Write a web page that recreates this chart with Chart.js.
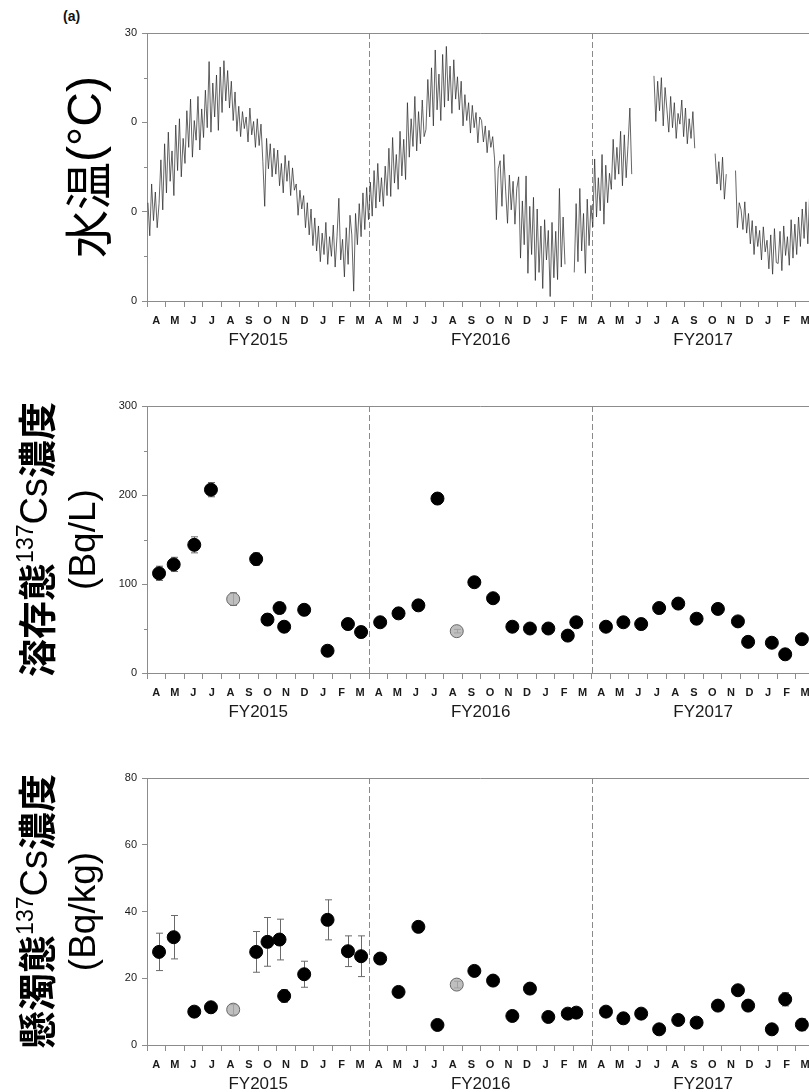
<!DOCTYPE html>
<html lang="ja">
<head>
<meta charset="utf-8">
<title>水温・137Cs濃度</title>
<script src="https://cdn.jsdelivr.net/npm/chart.js@4.4.1/dist/chart.umd.min.js"></script>
<style>
    html, body { margin: 0; padding: 0; background: #fff; }
    body { position: relative; width: 809px; height: 1092px; overflow: hidden; }
    canvas { position: absolute; left: 0; }
    #tag { position: absolute; left: 63px; top: 8px; font: bold 14px "Liberation Sans", Arial, sans-serif; color: #111; }
</style>
</head>
<body>
<div id="tag">(a)</div>
<canvas id="tempChart" width="840" height="351" style="top:0px"></canvas>
<canvas id="dissolvedChart" width="840" height="350" style="top:373px"></canvas>
<canvas id="suspendedChart" width="840" height="350" style="top:745px"></canvas>

<script>
// Axis labels
const monthLetters = ['A', 'M', 'J', 'J', 'A', 'S', 'O', 'N', 'D', 'J', 'F', 'M'];
const fiscalYears = ['FY2015', 'FY2016', 'FY2017'];
const fyBoundaries = [12, 24];          // months after April 2015

const tempTicks = [0, 10, 20, 30];
const tempTickLabels = ['0', '0', '0', '30'];   // as printed in the figure
const tempMinor = [5, 15, 25];
const dissolvedTicks = [0, 100, 200, 300];
const dissolvedMinor = [50, 150, 250];
const suspendedTicks = [0, 20, 40, 60, 80];

// Water temperature (°C), ten readings per month, Apr 2015 - Mar 2018 (null = no record)
const waterTemp = [
    [11.0, 7.3, 13.1, 9.0, 12.2, 8.2, 10.9, 15.8, 10.2, 17.6],
    [12.1, 18.9, 13.4, 16.8, 11.8, 19.7, 14.6, 20.4, 13.9, 18.2],
    [15.4, 21.3, 17.2, 22.6, 16.1, 20.2, 18.0, 22.9, 16.9, 21.5],
    [18.3, 23.6, 19.4, 26.8, 18.9, 24.4, 20.6, 25.3, 19.1, 26.2],
    [21.1, 26.9, 22.4, 25.8, 21.6, 24.6, 20.2, 23.4, 19.0, 21.8],
    [18.4, 21.2, 19.3, 20.6, 17.8, 21.6, 18.6, 20.1, 17.2, 20.4],
    [17.4, 19.8, 15.6, 10.6, 18.2, 14.8, 17.6, 13.9, 17.1, 14.2],
    [16.9, 12.9, 15.4, 12.1, 16.3, 13.4, 15.7, 11.8, 14.9, 12.4],
    [13.1, 9.6, 12.4, 10.3, 11.8, 8.2, 11.0, 7.4, 10.3, 6.2],
    [9.3, 5.6, 8.4, 4.4, 7.6, 5.2, 8.8, 4.1, 7.2, 5.0],
    [8.5, 3.8, 7.2, 11.5, 4.6, 6.9, 2.7, 8.2, 4.1, 9.6],
    [7.4, 1.1, 9.8, 6.3, 10.9, 7.2, 12.1, 8.0, 12.7, 9.1],
    [13.3, 9.5, 14.6, 10.4, 15.4, 11.1, 13.8, 10.6, 15.1, 11.8],
    [17.1, 11.7, 18.3, 13.2, 16.4, 12.5, 19.0, 14.0, 18.1, 13.6],
    [22.2, 16.1, 20.4, 17.3, 22.9, 16.8, 21.2, 17.6, 22.5, 18.4],
    [19.2, 24.8, 20.6, 26.1, 19.6, 28.1, 21.4, 25.4, 20.2, 27.6],
    [21.7, 28.5, 22.4, 26.3, 21.0, 27.0, 22.6, 25.1, 21.4, 24.6],
    [19.6, 23.1, 20.2, 22.2, 18.8, 21.9, 19.4, 21.1, 17.7, 20.6],
    [20.2, 17.8, 19.6, 16.6, 19.1, 17.2, 18.4, 15.9, 9.1, 14.8],
    [15.7, 10.6, 16.4, 12.3, 8.7, 14.1, 10.2, 13.4, 8.6, 12.6],
    [13.9, 4.8, 11.2, 6.3, 14.0, 3.1, 10.6, 5.2, 11.6, 2.3],
    [10.3, 3.2, 8.4, 1.4, 9.1, 4.6, 7.9, 0.5, 8.8, 2.6],
    [7.8, 2.4, 12.6, 3.8, 9.4, 4.1, null, null, null, null],
    [3.2, 10.9, 4.4, 12.6, 5.6, 9.8, 3.1, 11.4, 6.2, 10.7],
    [8.3, 15.9, 9.4, 13.8, 10.1, 16.4, 8.6, 15.2, 11.0, 14.3],
    [12.5, 18.1, 13.6, 17.2, 14.2, 19.0, 12.9, 18.6, 13.8, 17.4],
    [21.6, 14.2, null, null, null, null, null, null, null, null],
    [null, null, null, 25.2, 20.1, 24.6, 21.3, 25.0, 19.6, 23.9],
    [21.4, 18.9, 22.9, 19.4, 22.2, 18.2, 21.0, 19.8, 22.5, 18.4],
    [21.6, 17.6, 20.4, 18.2, 21.2, 17.1, null, null, null, null],
    [null, null, null, null, null, null, 16.5, 13.1, 15.6, 12.4],
    [16.1, 11.4, 14.2, null, null, null, null, 14.6, 8.2, 11.0],
    [10.2, 8.0, 11.1, 7.6, 9.8, 6.4, 9.0, 5.2, 8.4, 6.1],
    [7.9, 4.6, 8.3, 5.5, 6.8, 3.6, 7.4, 3.0, 8.1, 4.3],
    [4.2, 7.8, 3.4, 8.4, 5.1, 7.2, 4.0, 9.1, 4.8, 8.6],
    [5.2, 9.4, 6.1, 10.3, 7.0, 11.1, 6.4, 12.0, 7.6, 11.3]
];

// Sampling dates (months after 1 April 2015)
const sampleMonths = [0.65, 1.44, 2.55, 3.45, 4.65, 5.89, 6.5, 7.15, 7.4, 8.48, 9.74, 10.84, 11.55,
    12.58, 13.57, 14.64, 15.67, 16.71, 17.66, 18.67, 19.71, 20.66, 21.65, 22.7, 23.16,
    24.76, 25.7, 26.66, 27.63, 28.66, 29.65, 30.8, 31.88, 32.43, 33.71, 34.43, 35.33];
const greySamples = [4, 17];   // samples shown with grey markers

// Dissolved 137Cs (Bq/L) and its error
const dissolvedCs = [112, 122, 144, 206, 83, 128, 60, 73, 52, 71, 25, 55, 46,
    57, 67, 76, 196, 47, 102, 84, 52, 50, 50, 42, 57,
    52, 57, 55, 73, 78, 61, 72, 58, 35, 34, 21, 38];
const dissolvedErr = [8, 8, 9, 8, 7, 7, 6, 6, 6, 6, 0, 6, 6,
    0, 0, 0, 0, 2, 0, 0, 0, 0, 0, 0, 0,
    0, 0, 0, 0, 0, 0, 0, 0, 0, 0, 0, 0];

// Suspended 137Cs (Bq/kg) and its error
const suspendedCs = [27.9, 32.3, 10.0, 11.3, 10.6, 27.9, 30.9, 31.6, 14.7, 21.2, 37.5, 28.1, 26.6,
    25.9, 15.9, 35.4, 6.0, 18.1, 22.2, 19.3, 8.7, 16.9, 8.4, 9.4, 9.7,
    10.0, 8.0, 9.4, 4.7, 7.5, 6.7, 11.8, 16.4, 11.8, 4.7, 13.7, 6.1];
const suspendedErr = [5.6, 6.5, 0, 0, 1.5, 6.1, 7.3, 6.1, 1.9, 3.9, 6.0, 4.6, 6.1,
    1.3, 0, 0, 0, 1.0, 0, 0, 0, 0, 0, 0.8, 0,
    0, 0, 0, 0, 0, 0, 0, 0, 0, 0, 2.0, 1.8];

const axisGray = '#8c8c8c';
const textColor = '#1a1a1a';
const sansFont = '"Liberation Sans", Arial, sans-serif';
const cjkFont = '"Noto Sans CJK JP", sans-serif';

Chart.defaults.font.family = sansFont;
Chart.defaults.color = textColor;

// Decorations per canvas: minor ticks, error bars, y titles
const decor = {
    tempChart: {
        minor: tempMinor,
        titles: [
            {x: 88, runs: [
                {text: '水温', font: '48px ' + cjkFont},
                {text: '(°C)', font: '48px ' + sansFont}
            ]}
        ]
    },
    dissolvedChart: {
        minor: dissolvedMinor,
        values: dissolvedCs,
        errors: dissolvedErr,
        titles: [
            {x: 37, runs: [
                {text: '溶存態', font: 'bold 38px ' + cjkFont},
                {text: '137', font: '23px ' + sansFont, rise: 10},
                {text: 'Cs', font: '38px ' + sansFont},
                {text: '濃度', font: 'bold 38px ' + cjkFont}
            ]},
            {x: 85, runs: [{text: '(Bq/L)', font: '37px ' + sansFont}]}
        ]
    },
    suspendedChart: {
        minor: [],
        values: suspendedCs,
        errors: suspendedErr,
        titles: [
            {x: 37, runs: [
                {text: '懸濁態', font: 'bold 38px ' + cjkFont},
                {text: '137', font: '23px ' + sansFont, rise: 10},
                {text: 'Cs', font: '38px ' + sansFont},
                {text: '濃度', font: 'bold 38px ' + cjkFont}
            ]},
            {x: 85, runs: [{text: '(Bq/kg)', font: '37px ' + sansFont}]}
        ]
    }
};

const panelDecor = {
    id: 'panelDecor',
    beforeDatasetsDraw(chart) {
        const d = decor[chart.canvas.id];
        const ctx = chart.ctx;
        const area = chart.chartArea;
        const xs = chart.scales.x;
        const ys = chart.scales.y;

        ctx.save();
        // top frame line
        ctx.strokeStyle = axisGray;
        ctx.lineWidth = 1;
        ctx.beginPath();
        ctx.moveTo(area.left, area.top + 0.5);
        ctx.lineTo(area.right, area.top + 0.5);
        ctx.stroke();

        // fiscal year separators
        ctx.strokeStyle = '#8a8a8a';
        ctx.setLineDash([6, 3]);
        fyBoundaries.forEach(function(m) {
            const px = Math.round(xs.getPixelForValue(m)) + 0.5;
            ctx.beginPath();
            ctx.moveTo(px, area.top);
            ctx.lineTo(px, area.bottom);
            ctx.stroke();
        });
        ctx.setLineDash([]);

        // minor y ticks
        d.minor.forEach(function(v) {
            const py = Math.round(ys.getPixelForValue(v)) + 0.5;
            ctx.beginPath();
            ctx.moveTo(area.left - 3, py);
            ctx.lineTo(area.left, py);
            ctx.stroke();
        });

        // error bars
        if (d.errors) {
            ctx.strokeStyle = '#6a6a6a';
            d.errors.forEach(function(err, i) {
                if (!err) return;
                const px = Math.round(xs.getPixelForValue(sampleMonths[i])) + 0.5;
                const top = ys.getPixelForValue(d.values[i] + err);
                const bottom = ys.getPixelForValue(d.values[i] - err);
                ctx.beginPath();
                ctx.moveTo(px, top);
                ctx.lineTo(px, bottom);
                ctx.moveTo(px - 3.5, top);
                ctx.lineTo(px + 3.5, top);
                ctx.moveTo(px - 3.5, bottom);
                ctx.lineTo(px + 3.5, bottom);
                ctx.stroke();
            });
        }
        ctx.restore();
    },
    afterDraw(chart) {
        const d = decor[chart.canvas.id];
        const ctx = chart.ctx;
        const midY = (chart.chartArea.top + chart.chartArea.bottom) / 2;

        ctx.save();
        ctx.fillStyle = '#000';
        ctx.textBaseline = 'middle';
        ctx.textAlign = 'left';
        d.titles.forEach(function(line) {
            let total = 0;
            line.runs.forEach(function(r) {
                ctx.font = r.font;
                total += ctx.measureText(r.text).width;
            });
            ctx.save();
            ctx.translate(line.x, midY);
            ctx.rotate(-Math.PI / 2);
            let pos = -total / 2;
            line.runs.forEach(function(r) {
                ctx.font = r.font;
                ctx.fillText(r.text, pos, -(r.rise || 0));
                pos += ctx.measureText(r.text).width;
            });
            ctx.restore();
        });
        ctx.restore();
    }
};

// tick positions for month labels (half months) and month boundaries
const monthTicks = [];
for (let i = 0; i <= 72; i++) {
    monthTicks.push(i / 2);
}

function monthAxes() {
    return {
        x: {
            type: 'linear', axis: 'x', position: 'bottom', weight: 1,
            min: 0, max: 36,
            afterBuildTicks: function(scale) {
                scale.ticks = monthTicks.map(v => ({value: v}));
            },
            afterFit: function(scale) { scale.height = 28; },
            border: {color: axisGray},
            grid: {
                drawOnChartArea: false,
                tickLength: 6,
                tickColor: function(c) {
                    return c.tick && Number.isInteger(c.tick.value) ? axisGray : 'rgba(0,0,0,0)';
                }
            },
            ticks: {
                autoSkip: false, maxRotation: 0, minRotation: 0, padding: 7,
                color: textColor, font: {size: 11, weight: 'bold'},
                callback: function(v) {
                    return Number.isInteger(v) ? '' : monthLetters[Math.floor(v) % 12];
                }
            }
        },
        x2: {
            type: 'linear', axis: 'x', position: 'bottom', weight: 2,
            min: 0, max: 36,
            afterBuildTicks: function(scale) {
                scale.ticks = fiscalYears.map((fy, i) => ({value: i * 12 + 6}));
            },
            afterFit: function(scale) { scale.height = 22; },
            border: {display: false},
            grid: {display: false, drawTicks: false},
            ticks: {
                autoSkip: false, maxRotation: 0, minRotation: 0, padding: 1,
                color: textColor, font: {size: 17},
                callback: function(v) { return fiscalYears[Math.floor(v / 12)]; }
            }
        }
    };
}

function yAxis(max, ticks, labels) {
    return {
        type: 'linear', position: 'left',
        min: 0, max: max,
        afterBuildTicks: function(scale) {
            scale.ticks = ticks.map(v => ({value: v}));
        },
        afterFit: function(scale) { scale.width = 147; },
        border: {color: axisGray},
        grid: {drawOnChartArea: false, tickLength: 5, tickColor: axisGray},
        ticks: {
            padding: 5, color: textColor, font: {size: 11},
            callback: function(v, i) { return labels ? labels[i] : String(v); }
        }
    };
}

function baseOptions(yScale) {
    const scales = monthAxes();
    scales.y = yScale;
    return {
        responsive: false,
        animation: false,
        devicePixelRatio: 1,
        events: [],
        layout: {padding: {left: 0, top: 33, right: 25.7, bottom: 0}},
        plugins: {legend: {display: false}, tooltip: {enabled: false}},
        scales: scales
    };
}

// Temperature line
const tempPoints = [];
waterTemp.forEach(function(row, m) {
    row.forEach(function(v, k) {
        tempPoints.push({x: m + (k + 0.5) / row.length, y: v});
    });
});

new Chart(document.getElementById('tempChart'), {
    type: 'line',
    data: {
        datasets: [{
            data: tempPoints,
            borderColor: 'rgba(40,40,40,0.8)',
            borderWidth: 0.9,
            pointRadius: 0,
            tension: 0,
            spanGaps: false
        }]
    },
    options: baseOptions(yAxis(30, tempTicks, tempTickLabels)),
    plugins: [panelDecor]
});

function markerColors(fill, grey) {
    return sampleMonths.map((m, i) => greySamples.includes(i) ? grey : fill);
}

function scatterDataset(values) {
    return {
        data: sampleMonths.map((m, i) => ({x: m, y: values[i]})),
        pointRadius: 6.5,
        pointBorderWidth: 1,
        pointBackgroundColor: markerColors('#000', 'rgba(175,175,175,0.8)'),
        pointBorderColor: markerColors('#000', '#666'),
        showLine: false
    };
}

new Chart(document.getElementById('dissolvedChart'), {
    type: 'scatter',
    data: {datasets: [scatterDataset(dissolvedCs)]},
    options: baseOptions(yAxis(300, dissolvedTicks)),
    plugins: [panelDecor]
});

new Chart(document.getElementById('suspendedChart'), {
    type: 'scatter',
    data: {datasets: [scatterDataset(suspendedCs)]},
    options: baseOptions(yAxis(80, suspendedTicks)),
    plugins: [panelDecor]
});
</script>
</body>
</html>
